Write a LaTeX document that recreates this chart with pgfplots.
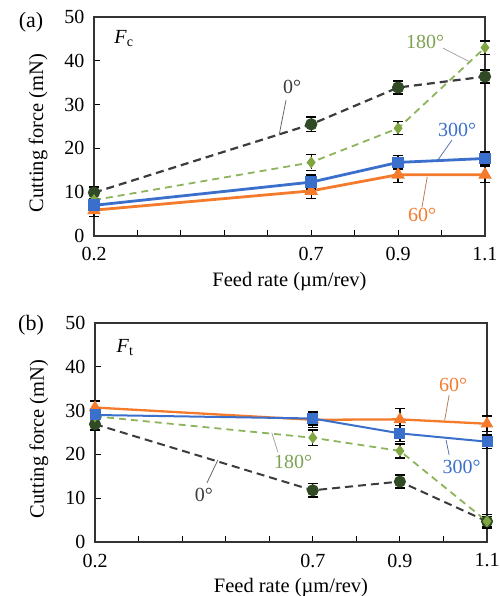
\documentclass[border=0pt]{standalone}
\usepackage{pgfplots}
\pgfplotsset{compat=1.18}
\usepackage{fontspec}
\setmainfont{Liberation Serif}
\definecolor{cz}{HTML}{2F4A25}
\definecolor{lz}{HTML}{3C3C3C}
\definecolor{cg}{HTML}{7FA640}
\definecolor{lg}{HTML}{8CB45C}
\definecolor{cb}{HTML}{3A6FCB}
\definecolor{co}{HTML}{F47B2C}
\tikzset{ann/.style={font=\fontsize{20}{20}\selectfont, inner sep=1pt}}
\pgfplotsset{
 myax/.style={
  scale only axis, height=219pt,
  xmin=0.2,xmax=1.1,ymin=0,ymax=50,
  xtick={0.2,0.7,0.9,1.1}, xticklabels={0.2,0.7,0.9,1.1},
  minor xtick={0.3,0.4,0.5,0.6,0.8,1.0},
  ytick={0,10,...,50},
  xtick pos=bottom, ytick pos=left, tick align=inside,
  major tick length=6pt, minor tick length=6pt,
  every tick/.style={black, line width=1.2pt},
  axis line style={black!80, line width=1.2pt},
  ticklabel style={font=\fontsize{20}{20}\selectfont, inner sep=1pt},
  xticklabel style={yshift=-10.5pt},
  yticklabel style={xshift=-8.5pt},
  /pgf/number format/assume math mode=true,
  xlabel={Feed rate (µm/rev)}, ylabel={Cutting force (mN)},
  label style={font=\fontsize{20.5}{21}\selectfont},
  xlabel style={at={(axis description cs:0.5,-0.163)}, anchor=north, inner sep=0pt},
  ylabel style={at={(axis description cs:-0.143,0.47)}, anchor=center, inner sep=0pt},
  clip=false,
  error bars/y dir=both, error bars/y explicit,
  error bars/error bar style={black, line width=1.3pt},
  error bars/error mark options={rotate=90, mark size=5pt, black, line width=1.3pt},
 }
}
\begin{document}
\begin{tikzpicture}
\path[use as bounding box] (0,0) rectangle (499pt,596pt);
% (a)
\begin{axis}[myax, width=391pt, at={(94pt,360pt)}, anchor=south west]
\addplot[lz, dashed, dash pattern=on 8pt off 5pt, line width=2.2pt, mark=*, mark size=5pt, mark options={solid, fill=cz, draw=cz}]
 coordinates {(0.2,9.9) +- (0,1.3) (0.7,25.5) +- (0,1.7) (0.9,33.9) +- (0,1.5) (1.1,36.4) +- (0,1.5)};
\addplot[lg, dashed, dash pattern=on 7pt off 5pt, line width=1.8pt, mark=diamond*, mark size=4.5pt, mark options={solid, fill=cg, draw=cg}]
 coordinates {(0.2,8.2) +- (0,1.2) (0.7,16.8) +- (0,1.8) (0.9,24.6) +- (0,1.5) (1.1,43.0) +- (0,1.5)};
\addplot[co, line width=2.8pt, mark=triangle*, mark size=5pt, mark options={fill=co, draw=co}]
 coordinates {(0.2,5.9) +- (0,1.5) (0.7,10.3) +- (0,1.8) (0.9,14.0) +- (0,1.8) (1.1,14.0) +- (0,1.8)};
\addplot[cb, line width=2.8pt, mark=square*, mark size=4.5pt, mark options={fill=cb, draw=cb}]
 coordinates {(0.2,7.0) +- (0,1.3) (0.7,12.3) +- (0,1.6) (0.9,16.8) +- (0,1.5) (1.1,17.7) +- (0,1.5)};
\node[ann, lz] at (axis cs:0.656,34) {0°};
\draw[gray!80!black, line width=0.8pt] (axis cs:0.642,31) -- (axis cs:0.626,23);
\node[ann, lg!90!black] at (axis cs:0.962,44.3) {180°};
\draw[gray!70, line width=0.8pt] (axis cs:1.003,42.9) -- (axis cs:1.066,39.7);
\node[ann, cb] at (axis cs:1.036,24.2) {300°};
\draw[cb!60!gray, line width=0.8pt] (axis cs:1.024,21.9) -- (axis cs:0.992,17.4);
\node[ann, co] at (axis cs:0.955,4.8) {60°};
\draw[co!50!gray, line width=0.8pt] (axis cs:0.955,6.6) -- (axis cs:0.967,13.5);
\node[ann] at (axis cs:0.269,45) {\textit{F}\textsubscript{c}};
\end{axis}
% (b)
\begin{axis}[myax, width=392pt, at={(95pt,54pt)}, anchor=south west]
\addplot[lz, dashed, dash pattern=on 8pt off 5pt, line width=2pt, mark=*, mark size=5pt, mark options={solid, fill=cz, draw=cz}]
 coordinates {(0.2,26.9) +- (0,1.3) (0.7,11.8) +- (0,1.5) (0.9,13.8) +- (0,1.5) (1.1,4.7) +- (0,1.5)};
\addplot[lg, dashed, dash pattern=on 7pt off 5pt, line width=1.8pt, mark=diamond*, mark size=4.5pt, mark options={solid, fill=cg, draw=cg}]
 coordinates {(0.2,28.7) +- (0,1.3) (0.7,23.8) +- (0,1.8) (0.9,20.8) +- (0,1.6) (1.1,4.7) +- (0,1.2)};
\addplot[co, line width=2.3pt, mark=triangle*, mark size=5pt, mark options={fill=co, draw=co}]
 coordinates {(0.2,30.7) +- (0,1.5) (0.7,27.9) +- (0,1.8) (0.9,28.0) +- (0,2.5) (1.1,27.0) +- (0,1.8)};
\addplot[cb, line width=2pt, mark=square*, mark size=4.5pt, mark options={fill=cb, draw=cb}]
 coordinates {(0.2,29.0) +- (0,1.5) (0.7,28.2) +- (0,1.5) (0.9,24.8) +- (0,1.8) (1.1,22.9) +- (0,1.5)};
\node[ann, co] at (axis cs:1.022,35.8) {60°};
\draw[co!50!gray, line width=0.8pt] (axis cs:1.013,33.5) -- (axis cs:1.003,27.9);
\node[ann, lg!90!black] at (axis cs:0.655,18.3) {180°};
\draw[gray!70, line width=0.8pt] (axis cs:0.62,20.5) -- (axis cs:0.606,24.9);
\node[ann, lz] at (axis cs:0.45,10.7) {0°};
\draw[gray!80!black, line width=0.8pt] (axis cs:0.457,13.5) -- (axis cs:0.482,18.7);
\node[ann, cb] at (axis cs:1.042,17.1) {300°};
\draw[cb!60!gray, line width=0.8pt] (axis cs:1.013,19.9) -- (axis cs:1.006,23.3);
\node[ann] at (axis cs:0.269,44.5) {\textit{F}\textsubscript{t}};
\end{axis}
\node[font=\fontsize{22}{22}\selectfont] at (31pt,574pt) {(a)};
\node[font=\fontsize{22}{22}\selectfont] at (31pt,271pt) {(b)};
\end{tikzpicture}
\end{document}
